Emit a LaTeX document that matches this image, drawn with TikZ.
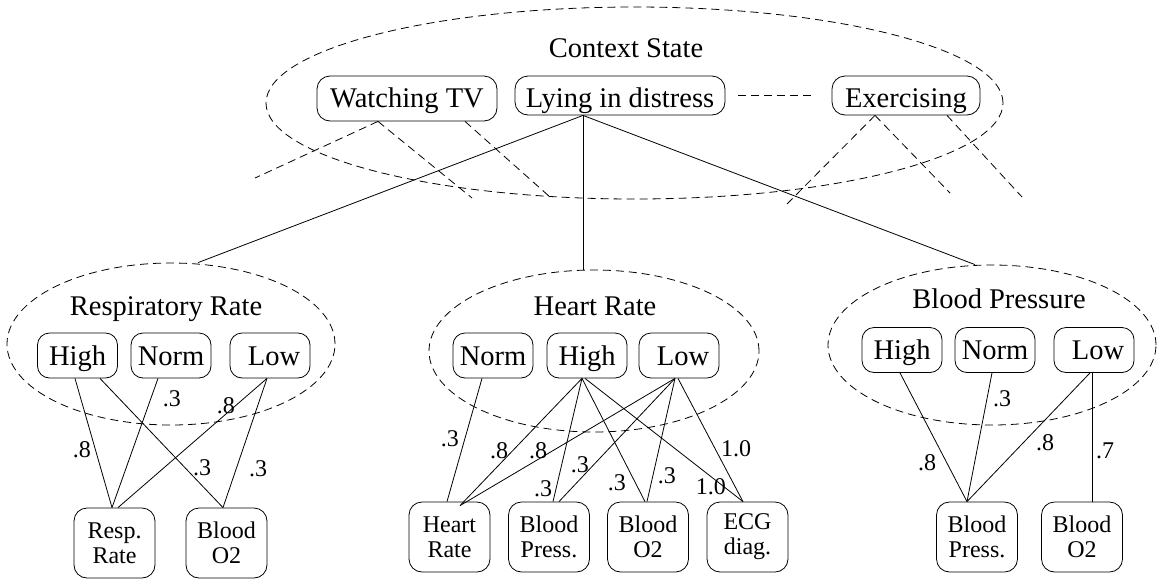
\documentclass[tikz,border=0pt]{standalone}
\usepackage{fontspec}
\setmainfont{Liberation Serif}
\usetikzlibrary{shapes.geometric,calc}
\begin{document}
\begin{tikzpicture}[x=1pt,y=-1pt,
  big/.style={font=\fontsize{28.5}{30}\selectfont},
  small/.style={font=\fontsize{24}{25}\selectfont},
  grp/.style={draw, ellipse, dash pattern=on 8pt off 5pt, inner sep=0pt, line width=0.8pt},
  grplabel/.style={big, anchor=base, inner sep=0pt},
  state/.style={draw, rounded corners=12pt, big, minimum width=80pt, minimum height=45pt, inner sep=0pt, text height=21pt, text depth=2pt, line width=0.8pt},
  sensor/.style={draw, rounded corners=13pt, small, align=center, minimum width=81pt, minimum height=70pt, inner sep=0pt, line width=0.8pt},
  ctxbox/.style={draw, rounded corners=13pt, big, inner sep=0pt, line width=0.8pt},
  link/.style={line width=0.8pt},
  dlink/.style={line width=0.8pt, dash pattern=on 8pt off 5pt},
  lbl/.style={small, inner sep=0pt}]
\useasboundingbox (0,0) rectangle (1157,582);

% ---- context state ----
\node[grp, minimum width=737pt, minimum height=192pt] (ctx) at (634.5,103) {};
\node[grplabel] (ctxl) at (626,57) {Context State};
\node[ctxbox, minimum width=180pt, minimum height=45pt, text height=21pt, text depth=4pt] (wtv) at (407,98.5) {Watching TV};
\node[ctxbox, minimum width=210pt, minimum height=39pt, text height=23pt, text depth=0pt] (lying) at (620,95.5) {Lying in distress};
\node[ctxbox, minimum width=148pt, minimum height=39pt, text height=23pt, text depth=0pt] (exer) at (906,95.5) {Exercising};

\draw[dlink] ($(lying.east)+(13,0)$) -- ($(exer.west)+(-19,0)$);
\coordinate (w1) at (255,178);
\coordinate (w2) at (472,198);
\coordinate (w3) at (550,197);
\coordinate (e1) at (787,204);
\coordinate (e2) at (950,193);
\coordinate (e3) at (1022,197);
\draw[dlink] ($(wtv.south)+(-29,0)$) -- (w1);
\draw[dlink] ($(wtv.south)+(-29,0)$) -- (w2);
\draw[dlink] ($(wtv.south)+(58,0)$) -- (w3);
\draw[dlink] ($(exer.south)+(-31,0)$) -- (e1);
\draw[dlink] ($(exer.south)+(-31,0)$) -- (e2);
\draw[dlink] ($(exer.south)+(41,0)$) -- (e3);

% ---- groups ----
\node[grp, minimum width=328pt, minimum height=162pt] (resp) at (171,344) {};
\node[grplabel] (respl) at (166,315) {Respiratory Rate};
\node[grp, minimum width=330pt, minimum height=162pt] (heart) at (594,351) {};
\node[grplabel] (heartl) at (595,315) {Heart Rate};
\node[grp, minimum width=328pt, minimum height=160pt] (bp) at (992,345) {};
\node[grplabel] (bpl) at (999,308) {Blood Pressure};

\coordinate (lp) at ($(lying.south)+(-37,0)$);
\draw[link] (lp) -- ($(resp.north)+(27,0)$);
\draw[link] (lp) -- ($(heart.north)+(-11,0)$);
\draw[link] (lp) -- ($(bp.north)+(-17,0)$);

% ---- states ----
\node[state] (rH) at (77.5,355.5) {High};
\node[state] (rN) at (171,355.5) {Norm};
\node[state] (rL) at (270,355.5) {\hspace*{8pt}Low};
\node[state] (hN) at (493,355.5) {Norm};
\node[state] (hH) at (587,355.5) {High};
\node[state] (hL) at (679,355.5) {\hspace*{8pt}Low};
\node[state] (bH) at (902,350) {High};
\node[state] (bN) at (995,350) {Norm};
\node[state] (bL) at (1094,350) {\hspace*{8pt}Low};

% ---- sensors ----
\node[sensor] (sR) at (114.5,543) {Resp.\\Rate};
\node[sensor] (sO) at (226.5,543) {Blood\\O2};
\node[sensor] (sHR) at (449.5,537) {Heart\\Rate};
\node[sensor] (sBP) at (549,537) {Blood\\Press.};
\node[sensor] (sBO) at (648,537) {Blood\\O2};
\node[sensor] (sECG) at (747.5,537) {ECG\\diag.};
\node[sensor] (tBP) at (977,537) {Blood\\Press.};
\node[sensor] (tBO) at (1082,537) {Blood\\O2};

% ---- left links ----
\draw[link] ($(rH.south)+(-2.5,0)$) -- node[lbl,pos=0.554,xshift=-13.5pt] (l1) {.8} ($(sR.north)+(-2.5,0)$);
\draw[link] ($(rH.south)+(22.5,0)$) -- node[lbl,pos=0.692,xshift=17pt] (l2) {.3} ($(sO.north)+(-3.5,0)$);
\draw[link] ($(rN.south)+(-13,0)$) -- node[lbl,pos=0.154,xshift=21pt] (l3) {.3} ($(sR.north)+(-2.5,0)$);
\draw[link] ($(rL.south)+(-3,0)$) -- node[lbl,pos=0.215,xshift=-9pt] (l4) {.8} ($(sR.north)+(3.5,0)$);
\draw[link] ($(rL.south)+(-3,0)$) -- node[lbl,pos=0.70,xshift=21.8pt] (l5) {.3} ($(sO.north)+(-3.5,0)$);

% ---- middle links ----
\draw[link] ($(hN.south)+(-11,0)$) -- node[lbl,pos=0.492,xshift=-14.8pt] (m1) {.3} ($(sHR.north)+(-2.5,0)$);
\draw[link] ($(hH.south)+(-5,0)$) -- node[lbl,pos=0.57,xshift=-13.4pt] (m2) {.8} ($(sHR.north)+(10.5,4)$);
\draw[link] ($(hH.south)+(-5,0)$) -- node[lbl,pos=0.895,xshift=-13pt] (m3) {.3} ($(sBP.north)+(4,0)$);
\draw[link] ($(hH.south)+(-5,0)$) -- node[lbl,pos=0.847,xshift=-18.4pt] (m4) {.3} ($(sBO.north)+(-3,0)$);
\draw[link] ($(hH.south)+(-2,0)$) -- node[lbl,pos=0.879,xshift=-13pt] (m5) {1.0} ($(sECG.north)+(-4.5,0)$);
\draw[link] ($(hL.south)+(-4,0)$) -- node[lbl,pos=0.57,xshift=-14.4pt] (m6) {.8} ($(sHR.north)+(10.5,4)$);
\draw[link] ($(hL.south)+(-4,0)$) -- node[lbl,pos=0.702,xshift=-13.6pt] (m7) {.3} ($(sBP.north)+(10,0)$);
\draw[link] ($(hL.south)+(-4,0)$) -- node[lbl,pos=0.79,xshift=14pt] (m8) {.3} ($(sBO.north)+(-1,0)$);
\draw[link] ($(hL.south)+(-1,0)$) -- node[lbl,pos=0.573,xshift=20.8pt] (m9) {1.0} ($(sECG.north)+(-4.5,0)$);

% ---- right links ----
\draw[link] ($(bH.south)+(-2,0)$) -- node[lbl,pos=0.699,xshift=-19.8pt] (r1) {.8} ($(tBP.north)+(-10,0)$);
\draw[link] ($(bN.south)+(-3,0)$) -- node[lbl,pos=0.197,xshift=15pt] (r2) {.3} ($(tBP.north)+(-10,0)$);
\draw[link] ($(bL.south)+(-4,0)$) -- node[lbl,pos=0.544,xshift=22pt] (r3) {.8} ($(tBP.north)+(-10,0)$);
\draw[link] ($(bL.south)+(-2,0)$) -- node[lbl,pos=0.606,xshift=13pt] (r4) {.7} ($(tBO.north)+(10,0)$);
\end{tikzpicture}
\end{document}
